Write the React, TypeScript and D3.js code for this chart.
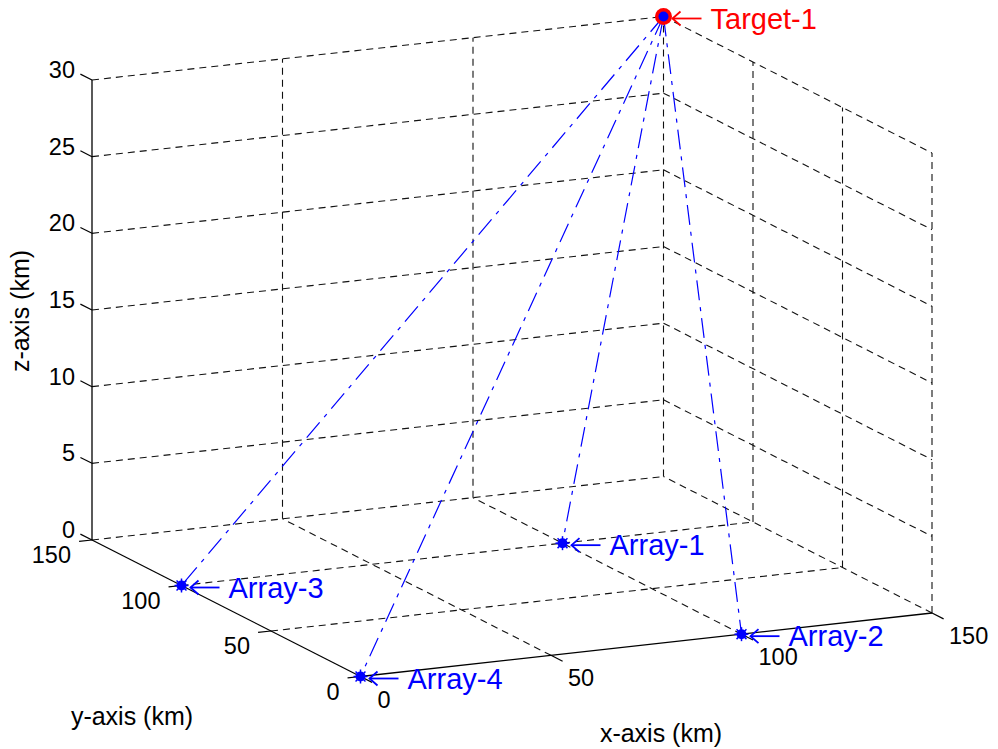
import React from 'react';
import * as d3 from 'd3';

const xTicks = [0, 50, 100, 150];
const yTicks = [0, 50, 100, 150];
const zTicks = [0, 5, 10, 15, 20, 25, 30];
const arrayNames = ['Array-1', 'Array-2', 'Array-3', 'Array-4'];
const arrayX = [100, 100, 0, 0];
const arrayY = [100, 0, 100, 0];
const arrayZ = [0, 0, 0, 0];
const targetName = 'Target-1';
const targetX = 150;
const targetY = 150;
const targetZ = 30;

const W = 998;
const H = 749;
const FONT = '"Liberation Sans", Arial, Helvetica, sans-serif';

const sx = d3.scaleLinear().domain([0, 150]).range([0, 1]);
const sy = d3.scaleLinear().domain([0, 150]).range([0, 1]);
const sz = d3.scaleLinear().domain([0, 30]).range([0, 1]);

const O = [360.5, 676.5];
const EX = [571.5, -63.5];
const EY = [-268.5, -136.5];
const EZ = [0, -460];

function P(x: number, y: number, z: number): [number, number] {
  const a = sx(x), b = sy(y), c = sz(z);
  return [O[0] + a * EX[0] + b * EY[0] + c * EZ[0], O[1] + a * EX[1] + b * EY[1] + c * EZ[1]];
}
function unit(v: number[]) {
  const l = Math.hypot(v[0], v[1]);
  return [v[0] / l, v[1] / l];
}
const ux = unit(EX);
const uy = unit(EY);
const line = d3.line();

const GRID = { stroke: '#111', strokeWidth: 1.1, strokeDasharray: '7 5', fill: 'none' };

function seg(a: [number, number], b: [number, number]) {
  return line([a, b]) as string;
}

function Arrow({ x, y, color, label }: { x: number; y: number; color: string; label: string }) {
  const tipX = x + 9, tailX = x + 38, yy = y + 2;
  return (
    <g>
      <path d={seg([tipX, yy], [tailX, yy])} stroke={color} strokeWidth={1.8} fill="none" />
      <path d={`M${tipX + 8},${yy - 7}L${tipX},${yy}L${tipX + 8},${yy + 7}`} stroke={color} strokeWidth={1.8} fill="none" />
      <text x={x + 47} y={yy} fill={color} fontSize={29} dominantBaseline="central" fontFamily={FONT}>{label}</text>
    </g>
  );
}

function Star({ x, y, color, r }: { x: number; y: number; color: string; r: number }) {
  const angles = [0, 45, 90, 135];
  return (
    <g>
      {angles.map((a) => {
        const t = (a * Math.PI) / 180;
        return <path key={a} d={seg([x - r * Math.cos(t), y - r * Math.sin(t)], [x + r * Math.cos(t), y + r * Math.sin(t)])} stroke={color} strokeWidth={1.5} />;
      })}
    </g>
  );
}

export default function App() {
  const gridPaths: string[] = [];
  xTicks.filter((t) => t > 0).forEach((t) => gridPaths.push(seg(P(t, 0, 0), P(t, 150, 0))));
  yTicks.filter((t) => t > 0).forEach((t) => gridPaths.push(seg(P(0, t, 0), P(150, t, 0))));
  xTicks.filter((t) => t > 0).forEach((t) => gridPaths.push(seg(P(t, 150, 0), P(t, 150, 30))));
  zTicks.filter((t) => t > 0).forEach((t) => gridPaths.push(seg(P(0, 150, t), P(150, 150, t))));
  yTicks.filter((t) => t < 150).forEach((t) => gridPaths.push(seg(P(150, t, 0), P(150, t, 30))));
  zTicks.filter((t) => t > 0).forEach((t) => gridPaths.push(seg(P(150, 150, t), P(150, 0, t))));

  const T = P(targetX, targetY, targetZ);
  const TL = 13;

  return (
    <svg width={W} height={H} style={{ position: 'absolute', left: 0, top: 0, background: '#fff' }} fontFamily={FONT}>
      <rect width={W} height={H} fill="#fff" />
      {gridPaths.map((d, i) => (
        <path key={i} d={d} {...GRID} />
      ))}
      <path d={seg(P(0, 0, 0), P(150, 0, 0))} stroke="#000" strokeWidth={1.3} />
      <path d={seg(P(0, 0, 0), P(0, 150, 0))} stroke="#000" strokeWidth={1.3} />
      <path d={seg(P(0, 150, 0), P(0, 150, 30))} stroke="#000" strokeWidth={1.3} />
      {zTicks.map((t) => {
        const p = P(0, 150, t);
        return (
          <g key={'z' + t}>
            <path d={seg(p, [p[0] + uy[0] * TL, p[1] + uy[1] * TL])} stroke="#000" strokeWidth={1.2} />
            <text x={p[0] - 17} y={p[1] - 10} textAnchor="end" dominantBaseline="central" fontSize={23.5}>{t}</text>
          </g>
        );
      })}
      {yTicks.map((t) => {
        const p = P(0, t, 0);
        return (
          <g key={'y' + t}>
            <path d={seg(p, [p[0] - ux[0] * TL, p[1] - ux[1] * TL])} stroke="#000" strokeWidth={1.2} />
            <text x={p[0] - 21} y={p[1] + 15} textAnchor="end" dominantBaseline="central" fontSize={23.5}>{t}</text>
          </g>
        );
      })}
      {xTicks.map((t) => {
        const p = P(t, 0, 0);
        return (
          <g key={'x' + t}>
            <path d={seg(p, [p[0] - uy[0] * TL, p[1] - uy[1] * TL])} stroke="#000" strokeWidth={1.2} />
            <text x={p[0] + 17} y={p[1] + 23} textAnchor="start" dominantBaseline="central" fontSize={23.5}>{t}</text>
          </g>
        );
      })}
      <text x={661} y={733} textAnchor="middle" dominantBaseline="central" fontSize={25}>x-axis (km)</text>
      <text x={132} y={716} textAnchor="middle" dominantBaseline="central" fontSize={25}>y-axis (km)</text>
      <text transform="translate(20,311) rotate(-90)" textAnchor="middle" dominantBaseline="central" fontSize={25}>z-axis (km)</text>
      {arrayNames.map((n, i) => (
        <path key={'l' + n} d={seg(T, P(arrayX[i], arrayY[i], arrayZ[i]))} stroke="#0000ff" strokeWidth={1.2} strokeDasharray="20 7 4 7" fill="none" />
      ))}
      {arrayNames.map((n, i) => {
        const p = P(arrayX[i], arrayY[i], arrayZ[i]);
        return (
          <g key={'a' + n}>
            <Star x={p[0]} y={p[1]} color="#0000ff" r={7} />
            <circle cx={p[0]} cy={p[1]} r={5} fill="#0000ff" />
            <Arrow x={p[0]} y={p[1]} color="#0000ff" label={n} />
          </g>
        );
      })}
      <circle cx={T[0]} cy={T[1]} r={8.5} fill="#ff0000" />
      <circle cx={T[0]} cy={T[1]} r={5} fill="#0000ff" />
      <Arrow x={T[0]} y={T[1]} color="#ff0000" label={targetName} />
    </svg>
  );
}
